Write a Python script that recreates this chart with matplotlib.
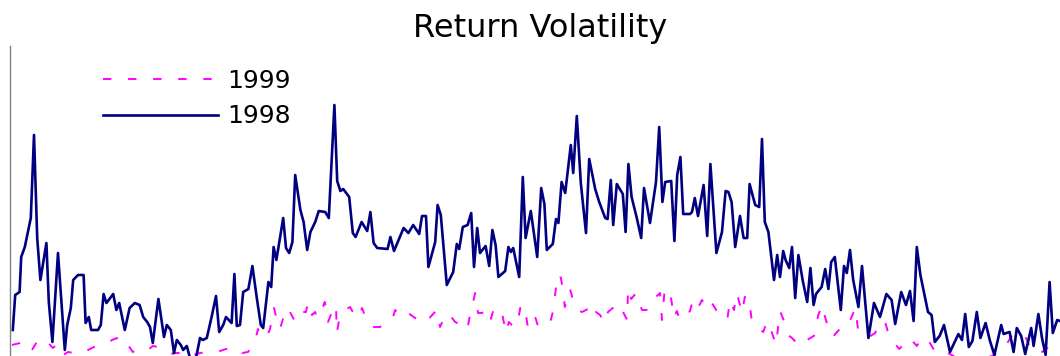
import numpy as np
import matplotlib
matplotlib.use("Agg")
import matplotlib.pyplot as plt

# daily return volatility, trading-day position and level
day98 = [0.2, 0.8, 1.9, 2.3, 3.2, 4.7, 5.5, 6.3, 7.1, 8.6, 9.2, 10.1, 11.5, 13.2, 13.8, 14.7,
         15.3, 16.5, 17.9, 18.4, 19.2, 19.8, 21.5, 22.2, 22.9, 23.6, 25.3, 26.1, 26.8, 28.2,
         29.4, 30.7, 31.9, 32.8, 33.8, 34.5, 35.2, 36.6, 38.0, 38.7, 39.7, 40.5, 41.2, 42.2,
         42.8, 43.7, 44.5, 46.0, 47.0, 47.7, 48.7, 49.9, 51.0, 51.8, 52.8, 53.5, 54.9, 55.6,
         56.2, 57.0, 57.8, 59.1, 60.1, 61.2, 62.2, 62.8, 64.1, 64.8, 65.4, 66.1, 67.8, 68.5,
         69.3, 70.1, 70.8, 72.1, 72.9, 73.8, 74.6, 75.8, 76.7, 78.3, 79.2, 80.6, 81.3, 82.1,
         82.8, 84.3, 85.2, 85.9, 87.4, 88.8, 89.6, 90.4, 91.3, 93.9, 94.6, 95.5, 97.9, 99.1,
         100.3, 101.8, 102.5, 103.5, 104.1, 105.8, 106.4, 107.2, 108.7, 110.3, 111.2, 111.8,
         112.7, 113.9, 114.8, 115.5, 116.3, 117.0, 118.4, 119.3, 120.1, 120.9, 121.6, 123.3,
         124.1, 124.7, 125.3, 126.8, 127.7, 128.4, 129.7, 131.3, 132.3, 133.1, 133.7, 135.2,
         136.0, 136.6, 137.4, 138.3, 139.7, 140.3, 141.2, 142.2, 143.5, 144.3, 145.8, 146.8,
         148.3, 148.9, 149.7, 150.3, 151.2, 152.7, 153.4, 154.1, 154.9, 156.2, 157.3, 158.0,
         159.5, 161.0, 161.8, 162.6, 163.3, 164.8, 165.6, 166.3, 167.1, 167.8, 169.5, 170.0,
         170.7, 171.5, 172.9, 173.8, 174.6, 176.1, 177.5, 178.4, 179.1, 179.9, 180.8, 182.0,
         182.9, 183.8, 184.4, 185.8, 186.8, 187.5, 188.2, 189.1, 190.5, 191.3, 192.0, 192.8,
         193.4, 194.3, 195.0, 195.8, 196.6, 197.7, 198.8, 199.6, 200.4, 201.0, 202.4, 203.3,
         204.1, 204.8, 205.7, 207.2, 208.0, 208.7, 209.5, 210.3, 211.6, 212.5, 214.1, 215.5,
         217.0, 218.6, 219.9, 220.8, 222.3, 223.5, 224.5, 225.4, 226.2, 227.1, 229.0, 229.9,
         230.7, 231.9, 233.0, 234.5, 236.6, 237.5, 238.3, 239.2, 240.1, 241.2, 242.1, 243.4,
         244.5, 245.6, 247.3, 247.9, 249.4, 250.4, 251.2, 252.3, 253.3, 254.8, 255.4, 256.6,
         257.5, 258.4, 259.4, 260.2, 261.3, 262.0]
vol98 = [3.6, 7.1, 7.4, 10.9, 11.9, 14.8, 23.1, 12.8, 8.6, 12.3, 6.4, 2.4, 11.3, 1.6, 4.1, 5.8,
         8.6, 9.1, 9.1, 4.3, 4.9, 3.6, 3.6, 4.1, 7.2, 6.3, 7.2, 5.6, 6.3, 3.6,
         5.8, 6.3, 6.1, 4.9, 4.4, 3.9, 2.3, 6.7, 2.9, 4.1, 3.6, 1.3, 2.6, 2.1,
         1.6, 2.0, 0.8, 0.8, 2.8, 2.6, 2.8, 4.9, 7.0, 3.4, 4.1, 4.9, 4.3, 9.2,
         4.0, 4.1, 7.4, 7.7, 10.0, 6.8, 4.1, 3.8, 8.4, 7.9, 11.9, 10.6, 14.8, 11.8,
         11.3, 12.4, 19.1, 15.6, 14.4, 11.6, 13.4, 14.4, 15.5, 15.4, 14.8, 26.1, 18.5, 17.5,
         17.7, 16.9, 13.3, 12.9, 14.4, 13.5, 15.4, 12.3, 11.8, 11.7, 12.9, 11.5, 13.8, 13.3,
         14.1, 13.2, 15.0, 15.0, 9.9, 12.4, 16.1, 15.1, 8.1, 9.4, 12.2, 11.7,
         13.9, 14.1, 15.3, 9.9, 13.8, 11.3, 12.0, 10.0, 13.6, 12.1, 8.9, 9.5,
         11.9, 11.4, 11.8, 8.9, 18.9, 12.8, 15.5, 10.9, 17.8, 16.2, 11.6, 12.2,
         14.7, 14.3, 18.4, 17.3, 22.1, 19.3, 25.0, 18.3, 13.3, 20.7, 17.7, 16.4,
         14.8, 14.7, 18.6, 14.1, 18.2, 17.2, 13.4, 20.2, 16.9, 14.8, 12.8, 17.8,
         14.3, 18.4, 23.9, 16.4, 18.4, 18.5, 12.5, 19.1, 20.9, 15.2, 15.2, 15.4,
         16.8, 15.0, 18.1, 13.0, 20.2, 11.3, 13.4, 17.5, 17.4, 16.4, 11.9, 15.0,
         12.8, 12.8, 18.2, 16.1, 15.9, 22.7, 14.4, 13.4, 8.6, 11.1, 8.9, 11.5,
         10.6, 9.8, 11.9, 6.8, 11.1, 8.5, 6.4, 9.8, 6.1, 7.2, 7.9, 9.7,
         7.7, 10.4, 10.9, 5.6, 10.0, 9.3, 11.6, 8.6, 5.9, 10.0, 2.8, 6.3,
         4.9, 7.2, 6.6, 4.2, 7.4, 6.1, 7.5, 4.5, 11.9, 9.1, 5.4, 5.1,
         2.4, 3.0, 4.1, 1.4, 3.2, 2.6, 5.2, 1.9, 2.5, 5.4, 2.8, 4.3,
         2.5, 1.1, 4.1, 3.2, 3.4, 1.4, 3.8, 3.0, 1.2, 3.8, 2.0, 5.2,
         2.8, 1.1, 8.4, 3.3, 4.6, 4.5]

day99 = [0.0, 2.0, 3.2, 5.0, 6.5, 8.2, 10.2, 11.5, 12.8, 14.0, 15.5, 17.0, 18.5, 20.0, 21.0,
         22.5, 23.8, 25.0, 26.2, 27.8, 29.0, 30.2, 31.5, 32.8, 34.0, 35.2, 36.5, 38.0, 39.5,
         41.0, 42.5, 44.0, 45.5, 47.0, 48.8, 50.2, 52.0, 53.5, 55.0, 56.2, 57.5, 59.0, 59.5,
         60.8, 61.5, 62.5, 63.8, 64.5, 65.5, 66.5, 67.0, 67.8, 68.8, 69.5, 70.8, 72.0, 72.8,
         73.5, 74.0, 75.0, 75.8, 76.2, 77.2, 78.2, 79.0, 80.0, 81.0, 81.2, 82.0, 83.2, 84.5,
         85.5, 86.5, 87.5, 88.8, 90.2, 92.0, 93.5, 95.0, 95.8, 97.0, 98.2, 99.0, 100.8, 102.0,
         103.2, 104.8, 106.2, 107.0, 107.8, 109.0, 110.8, 112.2, 113.8, 114.5, 115.8, 116.5,
         117.5, 118.2, 119.5, 120.2, 121.5, 122.5, 123.5, 124.2, 125.0, 126.2, 127.2, 128.2,
         129.0, 130.0, 130.8, 131.5, 133.0, 134.5, 135.2, 136.0, 137.0, 137.8, 138.2, 139.0,
         139.5, 140.2, 141.2, 142.5, 144.0, 145.0, 146.0, 147.0, 148.2, 149.0, 150.2, 151.2,
         152.5, 153.8, 154.0, 154.8, 156.0, 156.8, 157.5, 159.0, 160.2, 162.0, 162.5, 163.2,
         164.8, 165.5, 166.2, 167.0, 168.2, 169.5, 170.2, 171.5, 172.5, 173.5, 174.5, 176.2,
         177.5, 178.8, 179.5, 180.5, 181.2, 182.5, 183.2, 184.0, 184.5, 185.0, 186.2, 187.8,
         188.8, 190.0, 191.0, 192.0, 193.0, 194.0, 195.0, 196.2, 197.5, 198.8, 200.0, 200.8,
         201.5, 202.5, 203.2, 204.0, 205.2, 206.5, 207.5, 208.8, 210.0, 210.8, 211.5, 212.5,
         213.8, 215.8, 217.0, 218.2, 219.0, 220.0, 221.8, 223.2, 224.5, 226.2, 227.5, 229.5,
         230.8, 232.0, 233.2, 234.5, 236.2, 237.8, 239.5, 241.5, 243.2, 245.0, 246.5, 248.0,
         249.0, 250.0, 250.8, 252.0, 253.0, 254.2, 255.2, 256.5, 257.5, 258.8, 259.5, 260.8,
         262.0]
vol99 = [2.1, 2.3, 2.5, 1.6, 2.6, 2.7, 1.8, 2.2, 1.1, 1.4, 1.3, 1.6, 1.5, 1.8, 2.0,
         2.2, 2.3, 2.6, 2.8, 1.9, 2.1, 1.4, 1.7, 1.5, 1.6, 2.0, 1.9, 1.4, 1.2,
         1.3, 1.3, 0.8, 0.9, 1.3, 1.4, 1.4, 1.5, 1.7, 1.8, 1.8, 1.3, 1.4, 1.7,
         2.6, 3.7, 2.8, 3.0, 3.7, 5.8, 4.1, 3.7, 4.8, 4.4, 5.4, 4.4, 4.6, 5.4,
         5.4, 6.4, 5.1, 5.4, 4.8, 5.4, 6.4, 4.4, 5.4, 6.1, 3.3, 5.1, 5.6, 5.9,
         5.2, 4.8, 5.8, 4.4, 3.9, 3.9, 4.4, 4.6, 5.6, 5.1, 4.9, 5.3, 4.8, 4.6,
         4.3, 5.0, 5.6, 3.9, 4.6, 5.3, 4.4, 4.1, 3.6, 5.1, 7.3, 5.3,
         5.3, 5.5, 4.4, 5.4, 4.8, 5.3, 3.3, 4.4, 4.1, 3.9, 6.1, 5.8,
         3.8, 4.8, 4.9, 4.0, 4.4, 4.3, 5.4, 7.8, 9.2, 7.6, 5.9, 6.8,
         7.7, 6.7, 5.6, 5.4, 5.7, 4.8, 5.4, 5.1, 4.3, 5.4, 5.8, 6.3,
         5.6, 4.6, 7.8, 6.7, 7.3, 6.3, 5.6, 5.6, 6.6, 7.3, 4.6, 7.8,
         6.7, 4.8, 5.5, 4.6, 4.8, 5.5, 6.6, 5.8, 6.6, 6.0, 6.6, 5.5,
         5.0, 4.6, 6.6, 5.6, 7.3, 5.3, 6.9, 7.0, 6.0, 4.3, 3.9, 3.4,
         4.5, 3.3, 2.1, 5.5, 4.5, 3.1, 2.8, 2.3, 2.9, 2.6, 2.9, 3.1,
         5.0, 6.1, 5.0, 3.9, 2.9, 3.5, 3.9, 3.9, 5.0, 5.8, 3.7, 3.3,
         2.8, 3.3, 4.4, 4.5, 3.4, 2.6, 1.7, 2.3, 2.8, 2.0, 2.9, 2.3,
         1.4, 1.2, 1.4, 1.2, 0.8, 0.9, 0.8, 0.9, 0.8, 1.0, 1.3, 1.6,
         2.4, 3.1, 3.2, 3.3, 3.2, 2.2, 1.4, 1.3, 1.4, 1.8, 1.2, 0.9,
         1.1]

fig = plt.figure(figsize=(10.6, 3.56), dpi=100)
ax = fig.add_axes([10 / 1060, 0.0, 1 - 10 / 1060, 310 / 356])

ax.plot(day99, vol99, color="#ff00ff", lw=1.4, dashes=(4.3, 8.6), label="1999")
ax.plot(day98, vol98, color="#000080", lw=1.9, label="1998")

ax.set_xlim(-0.5, 262)
ax.set_ylim(1.0, 32.0)
ax.set_xticks([])
ax.set_yticks([])
for s in ["top", "right", "bottom"]:
    ax.spines[s].set_visible(False)
ax.spines["left"].set_color("#808080")
ax.spines["left"].set_linewidth(1.0)

leg = ax.legend(loc="upper left", bbox_to_anchor=(103 / 1060, 1 - 69 / 356),
                bbox_transform=fig.transFigure, frameon=False, borderpad=0,
                borderaxespad=0, handlelength=4.6, handletextpad=0.35,
                labelspacing=0.45, prop={"family": "DejaVu Sans", "size": 18})

fig.text(540 / 1060, 1 - 37 / 356, "Return Volatility", ha="center", va="baseline",
         family="DejaVu Sans", fontsize=23)

fig.savefig("out.png", dpi=100)
